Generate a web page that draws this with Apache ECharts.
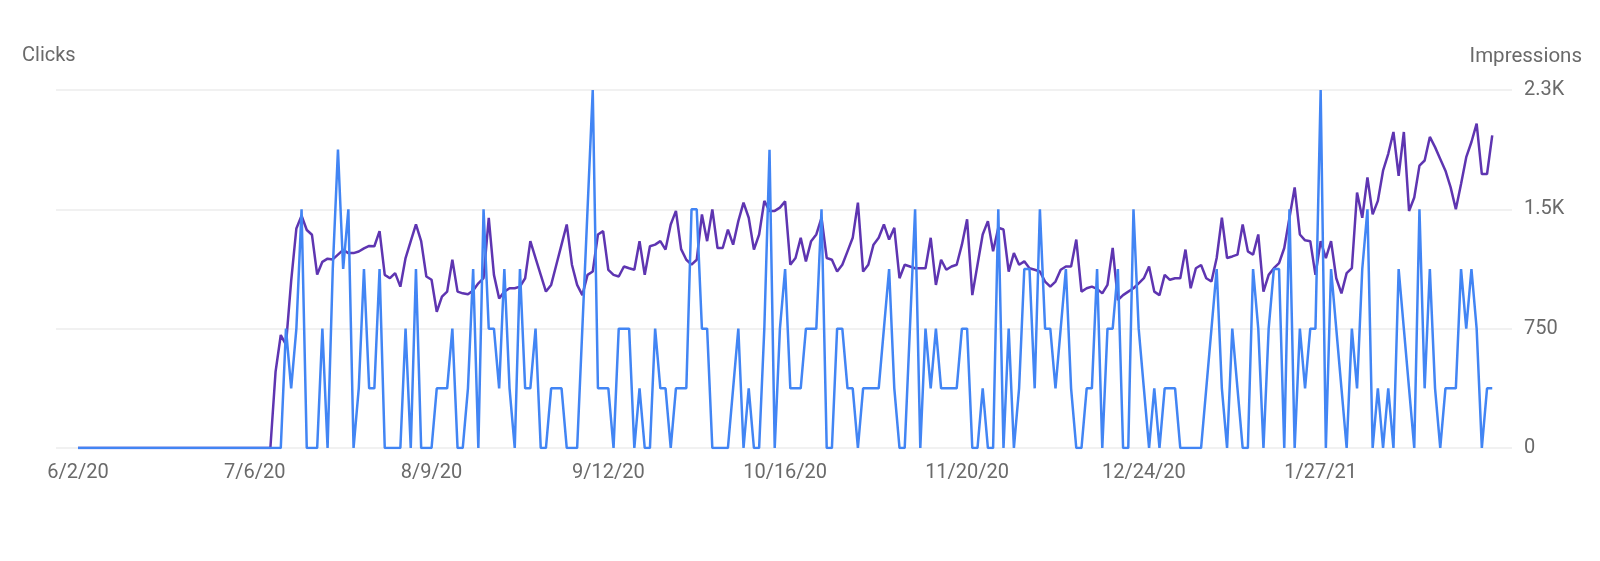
<!DOCTYPE html>
<html><head><meta charset="utf-8">
<script src="https://cdn.jsdelivr.net/npm/echarts@6/dist/echarts.min.js"></script>
<style>html,body{margin:0;padding:0;background:#fff}#c{width:1600px;height:561px}</style>
</head><body><div id="c"></div>
<script>
// Day offsets from 6/2/20 (daily data)
const xTickDays = [0, 34, 68, 102, 136, 171, 205, 239];
const xTickLabels = ['6/2/20', '7/6/20', '8/9/20', '9/12/20', '10/16/20', '11/20/20', '12/24/20', '1/27/21'];
const impTickValues = [0, 750, 1500, 2250];
const impTickLabels = ['0', '750', '1.5K', '2.3K'];

const clicks = [
  0,0,0,0,0,0,0,0,0,0,
  0,0,0,0,0,0,0,0,0,0,
  0,0,0,0,0,0,0,0,0,0,
  0,0,0,0,0,0,0,0,0,0,
  2,1,2,4,0,0,0,2,0,3,
  5,3,4,0,1,3,1,1,3,0,
  0,0,0,2,0,3,0,0,0,1,
  1,1,2,0,0,1,3,0,4,2,
  2,1,3,1,0,3,1,1,2,0,
  0,1,1,1,0,0,0,2,4,6,
  1,1,1,0,2,2,2,0,1,0,
  0,2,1,1,0,1,1,1,4,4,
  2,2,0,0,0,0,1,2,0,1,
  0,0,2,5,0,2,3,1,1,1,
  2,2,2,4,0,0,2,2,1,1,
  0,1,1,1,1,2,3,1,0,0,
  2,4,0,2,1,2,1,1,1,1,
  2,2,0,0,1,0,0,4,0,2,
  0,1,3,3,1,4,2,2,1,2,
  3,1,0,0,1,1,3,0,2,2,
  3,0,0,4,2,1,0,1,0,1,
  1,1,0,0,0,0,0,1,2,3,
  1,0,2,1,0,0,3,2,0,2,
  3,3,0,4,0,2,1,2,2,6,
  0,3,2,1,0,2,1,3,4,0,
  1,0,1,0,3,2,1,0,4,1,
  3,1,0,1,1,1,3,2,3,2,
  0,1,1
];

const impressions = [
  0,0,0,0,0,0,0,0,0,0,
  0,0,0,0,0,0,0,0,0,0,
  0,0,0,0,0,0,0,0,0,0,
  0,0,0,0,0,0,0,0,480,710,
  650,1050,1380,1460,1370,1340,1090,1170,1190,1185,
  1215,1245,1225,1225,1235,1255,1270,1268,1363,1088,
  1067,1099,1014,1194,1300,1405,1300,1078,1057,856,
  951,983,1183,983,972,966,990,1035,1067,1447,
  1088,940,983,1004,1004,1014,1067,1300,1194,1088,
  983,1025,1152,1278,1405,1152,1025,961,1088,1109,
  1342,1363,1120,1088,1078,1141,1130,1120,1300,1088,
  1268,1278,1300,1247,1405,1490,1250,1183,1152,1183,
  1468,1300,1500,1257,1257,1373,1278,1426,1542,1447,
  1247,1342,1553,1490,1490,1511,1550,1152,1194,1321,
  1173,1300,1342,1447,1194,1183,1109,1152,1236,1321,
  1542,1109,1152,1278,1321,1405,1310,1384,1067,1152,
  1141,1130,1130,1130,1321,1025,1183,1120,1141,1152,
  1278,1437,961,1152,1342,1426,1236,1384,1373,1109,
  1225,1152,1173,1130,1120,1109,1046,1014,1046,1120,
  1141,1141,1310,983,1004,1014,1000,972,1025,1257,
  930,961,983,1004,1035,1067,1141,983,961,1088,
  1057,1067,1067,1247,1004,1130,1150,1067,1046,1194,
  1447,1194,1204,1215,1405,1236,1215,1342,983,1088,
  1130,1162,1257,1447,1638,1342,1305,1300,1088,1300,
  1194,1300,1067,972,1099,1130,1606,1447,1701,1468,
  1553,1743,1849,1986,1711,1986,1490,1574,1775,1807,
  1955,1891,1817,1743,1638,1500,1659,1828,1923,2039,
  1722,1722,1965
];

const textColor = '#6a6a6a';
const font = 'Roboto';
const clickData = clicks.map((v, i) => [i, v]);
const impData = impressions.map((v, i) => [i, v]);

const chart = echarts.init(document.getElementById('c'), null, {renderer: 'canvas'});
chart.setOption({
  animation: false,
  backgroundColor: '#ffffff',
  grid: {left: 56, right: 88, top: 90, bottom: 113, containLabel: false},
  graphic: [
    {type: 'text', left: 22, top: 46, style: {text: 'Clicks', fontSize: 20, fontFamily: font, fill: textColor}},
    {type: 'text', right: 18, top: 46, style: {text: 'Impressions', fontSize: 20.5, fontFamily: font, fill: textColor}}
  ],
  xAxis: {
    type: 'value',
    min: -4.23,
    max: 275.8,
    axisLine: {show: false},
    axisTick: {show: false},
    splitLine: {show: false},
    axisLabel: {
      customValues: xTickDays,
      formatter: function (v) { const k = xTickDays.indexOf(Math.round(v)); return k >= 0 ? xTickLabels[k] : ''; },
      fontSize: 20, fontFamily: font, color: textColor, margin: 15
    }
  },
  yAxis: [
    {
      type: 'value', min: 0, max: 6, interval: 2,
      axisLine: {show: false}, axisTick: {show: false},
      axisLabel: {show: false}, splitLine: {show: false}
    },
    {
      type: 'value', position: 'right', min: 0, max: 2250, interval: 750,
      axisLine: {show: false}, axisTick: {show: false},
      splitLine: {show: true, lineStyle: {color: '#ececec', width: 1.5}},
      axisLabel: {
        formatter: function (v) { const k = impTickValues.indexOf(v); return k >= 0 ? impTickLabels[k] : ''; },
        fontSize: 20, fontFamily: font, color: textColor, margin: 12, align: 'left',
        padding: [6, 0, 0, 0]
      }
    }
  ],
  series: [
    {
      name: 'Impressions', type: 'line', yAxisIndex: 1, data: impData,
      showSymbol: false, symbol: 'none', z: 2,
      lineStyle: {color: '#5e35b1', width: 2.5}, itemStyle: {color: '#5e35b1'}
    },
    {
      name: 'Clicks', type: 'line', yAxisIndex: 0, data: clickData,
      showSymbol: false, symbol: 'none', z: 3,
      lineStyle: {color: '#4285f4', width: 2.5}, itemStyle: {color: '#4285f4'}
    }
  ]
});
</script>
</body></html>
